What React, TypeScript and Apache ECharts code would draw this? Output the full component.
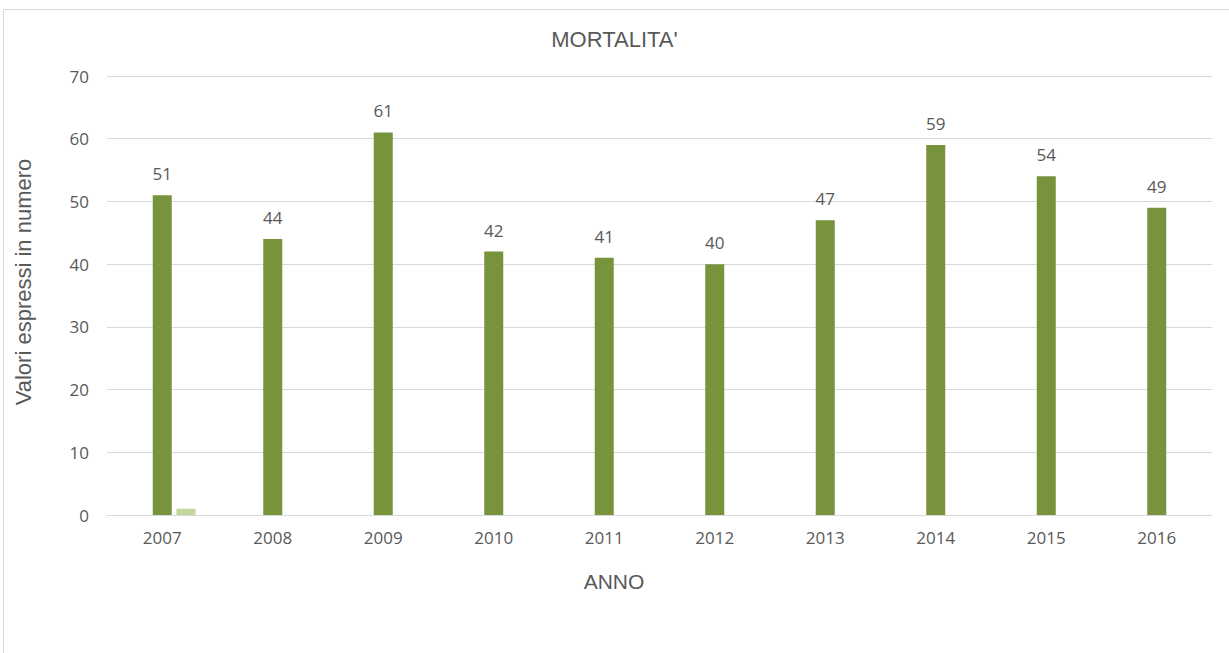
import React, { useEffect, useRef } from "react";
import * as echarts from "echarts";

const categories = ["2007", "2008", "2009", "2010", "2011", "2012", "2013", "2014", "2015", "2016"];
const mortalita = [51, 44, 61, 42, 41, 40, 47, 59, 54, 49];
const secondSeries = [1, null, null, null, null, null, null, null, null, null];
const ghost = [null, null, null, null, null, null, null, null, null, null];
const yTicks = { min: 0, max: 70, interval: 10 };

const TEXT = "#595959";
const GRID = "#D9D9D9";

export default function App() {
  const ref = useRef<HTMLDivElement>(null);
  useEffect(() => {
    document.body.style.margin = "0";
    const chart = echarts.init(ref.current!, null, { renderer: "svg" });
    chart.setOption({
      animation: false,
      backgroundColor: "#ffffff",
      title: {
        text: "MORTALITA'",
        left: "center",
        top: 23,
        padding: [5, 0, 5, 10],
        textStyle: { fontFamily: "Liberation Sans", fontSize: 22, fontWeight: "normal", color: TEXT },
      },
      graphic: [
        {
          type: "rect",
          shape: { x: 3.5, y: 9.5, width: 1300, height: 700 },
          style: { fill: "none", stroke: GRID, lineWidth: 1 },
          silent: true,
        },
      ],
      grid: { left: 107, right: 17, top: 76, bottom: 138, containLabel: false },
      xAxis: {
        type: "category",
        data: categories,
        name: "ANNO",
        nameLocation: "middle",
        nameGap: 56,
        nameTextStyle: { fontFamily: "Liberation Sans", fontSize: 21, color: TEXT, padding: [0, 91, 0, 0] },
        axisLine: { lineStyle: { color: GRID, width: 1 } },
        axisTick: { show: false },
        axisLabel: { fontFamily: "Open Sans", fontSize: 17, color: TEXT, margin: 14 },
      },
      yAxis: {
        type: "value",
        min: yTicks.min,
        max: yTicks.max,
        interval: yTicks.interval,
        name: "Valori espressi in numero",
        nameLocation: "middle",
        nameGap: 73,
        nameTextStyle: { fontFamily: "Liberation Sans", fontSize: 22, color: TEXT, padding: [0, 0, 0, 27] },
        axisLine: { show: false },
        axisTick: { show: false },
        splitLine: { lineStyle: { color: GRID, width: 1 } },
        axisLabel: { fontFamily: "Open Sans", fontSize: 17, color: TEXT, margin: 18 },
      },
      series: [
        {
          name: "ghost",
          type: "bar",
          data: ghost,
          barWidth: 19,
          barGap: "25%",
          itemStyle: { color: "rgba(0,0,0,0)" },
          silent: true,
        },
        {
          name: "Mortalità",
          type: "bar",
          data: mortalita,
          barWidth: 19,
          barGap: "25%",
          itemStyle: { color: "#77933C" },
          label: {
            show: true,
            position: "top",
            distance: 13,
            fontFamily: "Open Sans",
            fontSize: 17,
            color: TEXT,
          },
        },
        {
          name: "Serie 2",
          type: "bar",
          data: secondSeries,
          barWidth: 19,
          barGap: "25%",
          itemStyle: { color: "#C3D69B" },
        },
      ],
    });
    return () => chart.dispose();
  }, []);
  return <div ref={ref} style={{ width: 1229, height: 653 }} />;
}
